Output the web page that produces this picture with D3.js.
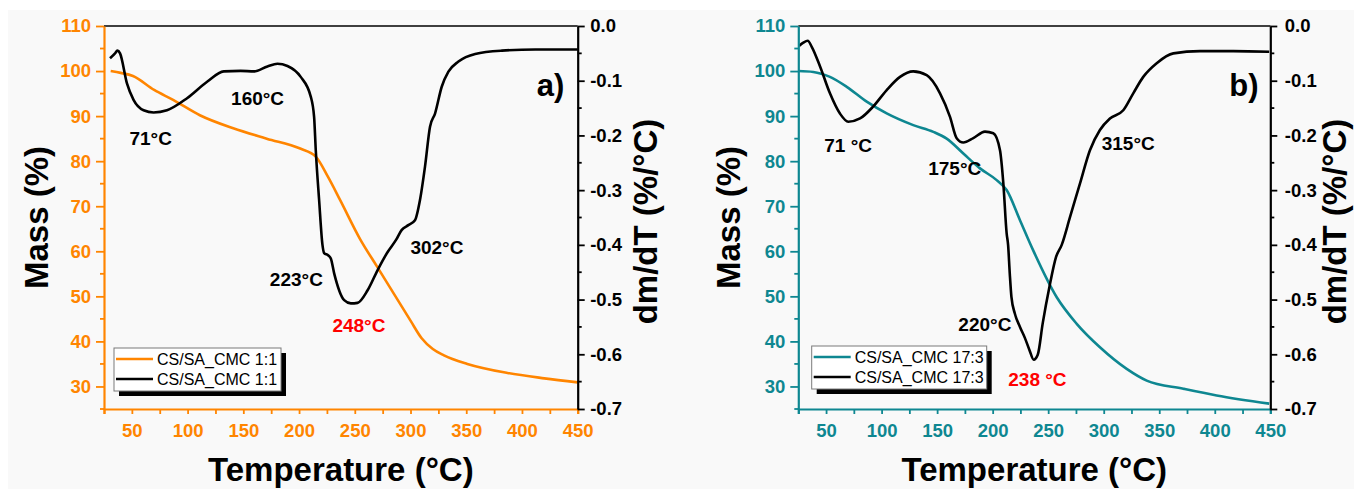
<!DOCTYPE html>
<html>
<head>
<meta charset="utf-8">
<script src="https://cdn.jsdelivr.net/npm/d3@7"></script>
<style>
  html, body { margin: 0; padding: 0; background: #ffffff; }
  svg { display: block; font-family: "Liberation Sans", Arial, Helvetica, sans-serif; }
</style>
</head>
<body>
<svg id="chart" width="1354" height="490"></svg>
<script>
// ---------------- DATA ----------------
const xTicks = [50, 100, 150, 200, 250, 300, 350, 400, 450];
const massTicks = [30, 40, 50, 60, 70, 80, 90, 100, 110];
const dtgTicks = [0.0, -0.1, -0.2, -0.3, -0.4, -0.5, -0.6, -0.7];

// Panel a) CS/SA_CMC 1:1
const massA_T = [31, 40, 51, 70, 87, 111, 141, 171, 201, 215, 226, 237, 255, 270, 285, 300, 310, 320, 330, 351, 387, 420, 450];
const massA_V = [100, 99.6, 98.9, 95.8, 93.6, 90.2, 87.3, 85, 82.8, 81, 76.5, 71.3, 62.6, 56.6, 50.6, 44.6, 40.7, 38.3, 36.9, 35, 33, 31.8, 30.9];
const dtgA_T = [30.4, 34.9, 37, 39.4, 45.6, 51.5, 60.5, 69.5, 81.5, 99.5, 117.5, 132.5, 147.6, 159.6, 171.6, 180.6, 189.6, 201.5, 210.5, 213.5, 215, 218, 221, 222.5, 226, 228.5, 231.5, 240.5, 246.5, 252.5, 261.5, 270.5, 279.5, 287, 292, 298, 304, 308.5, 313, 317.5, 322, 328, 334, 343, 358, 382, 412, 450];
const dtgA_V = [-0.059, -0.050, -0.045, -0.050, -0.105, -0.135, -0.154, -0.158, -0.154, -0.132, -0.102, -0.083, -0.082, -0.083, -0.074, -0.069, -0.073, -0.093, -0.129, -0.166, -0.227, -0.318, -0.400, -0.415, -0.419, -0.425, -0.452, -0.501, -0.507, -0.506, -0.483, -0.446, -0.413, -0.391, -0.373, -0.364, -0.355, -0.318, -0.257, -0.184, -0.160, -0.111, -0.0835, -0.065, -0.051, -0.045, -0.043, -0.043];
const legendA = ["CS/SA_CMC 1:1", "CS/SA_CMC 1:1"];
const notesA_text = ["71°C", "160°C", "223°C", "248°C", "302°C"];
const notesA_T = [47.8, 139, 173.8, 229.9, 299.9];
const notesA_M = [83.6, 92.4, 52.4, 42.1, 59.3];
const notesA_red = [false, false, false, true, false];

// Panel b) CS/SA_CMC 17:3
const massB_T = [25, 38.5, 53.5, 68.6, 86.6, 104.6, 128.5, 146.6, 158.6, 173.6, 188.6, 203.6, 212.6, 224.6, 236.5, 257.7, 275.7, 296.6, 320.7, 338.7, 371.7, 401.7, 449];
const massB_V = [100, 99.8, 98.7, 96.5, 93.2, 90.6, 88, 86.5, 85, 81.7, 78.4, 75.8, 73.6, 66.9, 60.2, 49.8, 43.9, 38.7, 33.9, 31.3, 29.5, 28, 26.2];
const dtgB_T = [25.6, 29.5, 33.5, 37.1, 44.6, 53.5, 62.5, 70, 80.6, 92.5, 104.6, 116.6, 128.5, 140.6, 152.6, 161.6, 167.6, 173.6, 182.6, 193.1, 200.6, 206.6, 209.6, 212.6, 213.9, 215.4, 216.9, 219.9, 224.6, 229, 233.1, 237, 240.6, 245.1, 251.1, 257.1, 262.2, 269.7, 278.6, 287.6, 296.6, 305.6, 317.6, 326.6, 335.6, 347.7, 362.7, 386.7, 416.7, 449];
const dtgB_V = [-0.0366, -0.0305, -0.027, -0.038, -0.074, -0.123, -0.160, -0.175, -0.169, -0.147, -0.117, -0.093, -0.083, -0.090, -0.123, -0.166, -0.205, -0.213, -0.205, -0.193, -0.196, -0.227, -0.287, -0.379, -0.400, -0.452, -0.495, -0.525, -0.550, -0.570, -0.592, -0.610, -0.601, -0.543, -0.477, -0.422, -0.400, -0.349, -0.288, -0.227, -0.190, -0.169, -0.154, -0.123, -0.093, -0.068, -0.050, -0.046, -0.046, -0.047];
const legendB = ["CS/SA_CMC 17:3", "CS/SA_CMC 17:3"];
const notesB_text = ["71 °C", "175°C", "220°C", "238 °C", "315°C"];
const notesB_T = [48.4, 142, 169.1, 214.1, 298.2];
const notesB_M = [82.1, 76.9, 42.4, 30.2, 82.4];
const notesB_red = [false, false, false, true, false];

// ---------------- DRAW ----------------
const svg = d3.select("#chart");
svg.append("rect").attr("x", 8).attr("y", 10).attr("width", 1346).attr("height", 479).attr("fill", "#f9f9f9");

function fmtDtg(d) { const s = d3.format(".1f")(Math.abs(d)); return (d < -1e-9 ? "-" : "") + s; }

function drawPanel(cfg) {
  const x = d3.scaleLinear().domain([25, 450]).range([cfg.left, cfg.right]);
  const yM = d3.scaleLinear().domain([25, 110]).range([cfg.bottom, cfg.top]);
  const yD = d3.scaleLinear().domain([-0.7, 0]).range([cfg.bottom, cfg.top]);
  const g = svg.append("g");
  const col = cfg.color;

  // curves
  const massPts = cfg.massT.map((t, i) => [t, cfg.massV[i]]);
  const dtgPts = cfg.dtgT.map((t, i) => [t, cfg.dtgV[i]]);
  g.append("path").datum(massPts)
    .attr("d", d3.line().x(d => x(d[0])).y(d => yM(d[1])).curve(d3.curveMonotoneX))
    .attr("fill", "none").attr("stroke", col).attr("stroke-width", 2.6);
  g.append("path").datum(dtgPts)
    .attr("d", d3.line().x(d => x(d[0])).y(d => yD(d[1])).curve(d3.curveMonotoneX))
    .attr("fill", "none").attr("stroke", "#000").attr("stroke-width", 2.6);

  // top frame line
  g.append("line").attr("x1", cfg.left).attr("x2", cfg.right).attr("y1", cfg.top).attr("y2", cfg.top)
    .attr("stroke", "#000").attr("stroke-width", 1.6);

  // bottom axis
  const minorX = d3.range(25, 451, 25);
  const bx = g.append("g").attr("transform", `translate(0,${cfg.bottom})`);
  bx.call(d3.axisBottom(x).tickValues(minorX).tickSize(5).tickPadding(10)
    .tickFormat(d => xTicks.includes(d) ? String(d) : ""));
  bx.select(".domain").attr("stroke", col).attr("stroke-width", 2.2);
  bx.selectAll(".tick line").attr("stroke", col).attr("stroke-width", 1.8);
  bx.selectAll(".tick text").attr("fill", col).attr("font-size", 18.5).attr("font-weight", "bold")
    .attr("font-family", "Liberation Sans, Arial, sans-serif");

  // left axis
  const ly = g.append("g").attr("transform", `translate(${cfg.left},0)`);
  ly.call(d3.axisLeft(yM).tickValues(massTicks).tickSize(8).tickPadding(5).tickSizeOuter(0));
  ly.call(g2 => g2.selectAll(".minor").data(d3.range(25, 110, 10)).join("line").attr("class", "minor")
    .attr("x1", -4).attr("x2", 0).attr("y1", d => yM(d)).attr("y2", d => yM(d))
    .attr("stroke", col).attr("stroke-width", 1.8));
  ly.select(".domain").attr("stroke", col).attr("stroke-width", 2.2);
  ly.selectAll(".tick line").attr("stroke", col).attr("stroke-width", 1.8);
  ly.selectAll(".tick text").attr("fill", col).attr("font-size", 18.5).attr("font-weight", "bold")
    .attr("font-family", "Liberation Sans, Arial, sans-serif");

  // right axis
  const ry = g.append("g").attr("transform", `translate(${cfg.right},0)`);
  ry.call(d3.axisRight(yD).tickValues(dtgTicks).tickSize(7).tickPadding(cfg.rightPad).tickSizeOuter(0).tickFormat(fmtDtg));
  ry.call(g2 => g2.selectAll(".minor").data(d3.range(-0.65, 0, 0.1)).join("line").attr("class", "minor")
    .attr("x1", 0).attr("x2", 4).attr("y1", d => yD(d)).attr("y2", d => yD(d))
    .attr("stroke", "#000").attr("stroke-width", 1.8));
  ry.select(".domain").attr("stroke", "#000").attr("stroke-width", 2.2);
  ry.selectAll(".tick line").attr("stroke", "#000").attr("stroke-width", 1.8);
  ry.selectAll(".tick text").attr("fill", "#000").attr("font-size", 18.5).attr("font-weight", "bold")
    .attr("font-family", "Liberation Sans, Arial, sans-serif");

  // axis titles
  const cx = (cfg.left + cfg.right) / 2, cy = (cfg.top + cfg.bottom) / 2;
  g.append("text").attr("x", cx).attr("y", 481).attr("text-anchor", "middle")
    .attr("font-size", 33).attr("font-weight", "bold").text("Temperature (°C)");
  g.append("text").attr("transform", `translate(${cfg.left - cfg.leftTitleOff},${cy}) rotate(-90)`)
    .attr("text-anchor", "middle").attr("font-size", 33).attr("font-weight", "bold").text("Mass (%)");
  g.append("text").attr("transform", `translate(${cfg.right + cfg.rightTitleOff},${cy + 4}) rotate(-90)`)
    .attr("text-anchor", "middle").attr("font-size", 33).attr("font-weight", "bold").text("dm/dT (%/°C)");

  // panel letter
  g.append("text").attr("x", cfg.right - 41).attr("y", cfg.top + 70)
    .attr("font-size", 31).attr("font-weight", "bold").text(cfg.letter);

  // annotations
  cfg.notesText.forEach((t, i) => {
    g.append("text").attr("x", x(cfg.notesT[i])).attr("y", yM(cfg.notesM[i]))
      .attr("font-size", 19).attr("font-weight", "bold")
      .attr("fill", cfg.notesRed[i] ? "#ff0000" : "#000").text(t);
  });

  // legend
  const lx = cfg.left + cfg.legX, lyy = cfg.top + cfg.legY, lw = cfg.legW, lh = 43;
  const lg = g.append("g");
  lg.append("rect").attr("x", lx + 5).attr("y", lyy + 5).attr("width", lw).attr("height", lh).attr("fill", "#000");
  lg.append("rect").attr("x", lx).attr("y", lyy).attr("width", lw).attr("height", lh)
    .attr("fill", "#ffffff").attr("stroke", "#7a7a7a").attr("stroke-width", 1);
  const legCols = [col, "#000"];
  cfg.legend.forEach((t, i) => {
    const yy = lyy + 11 + i * 20;
    lg.append("line").attr("x1", lx + 2).attr("x2", lx + 39).attr("y1", yy).attr("y2", yy)
      .attr("stroke", legCols[i]).attr("stroke-width", 2.6);
    lg.append("text").attr("x", lx + 43).attr("y", yy + 6).attr("font-size", 16).attr("fill", "#000").text(t);
  });
}

drawPanel({
  left: 104, right: 577.7, top: 26, bottom: 409, color: "#ff8500",
  massT: massA_T, massV: massA_V, dtgT: dtgA_T, dtgV: dtgA_V,
  legend: legendA, legX: 10, legY: 322, legW: 167,
  notesText: notesA_text, notesT: notesA_T, notesM: notesA_M, notesRed: notesA_red,
  letter: "a)", rightPad: 5.5, leftTitleOff: 56, rightTitleOff: 79
});
drawPanel({
  left: 798.3, right: 1270.3, top: 26, bottom: 409, color: "#0e8791",
  massT: massB_T, massV: massB_V, dtgT: dtgB_T, dtgV: dtgB_V,
  legend: legendB, legX: 13.4, legY: 320, legW: 175,
  notesText: notesB_text, notesT: notesB_T, notesM: notesB_M, notesRed: notesB_red,
  letter: "b)", rightPad: 7.5, leftTitleOff: 58, rightTitleOff: 76
});
</script>
</body>
</html>
